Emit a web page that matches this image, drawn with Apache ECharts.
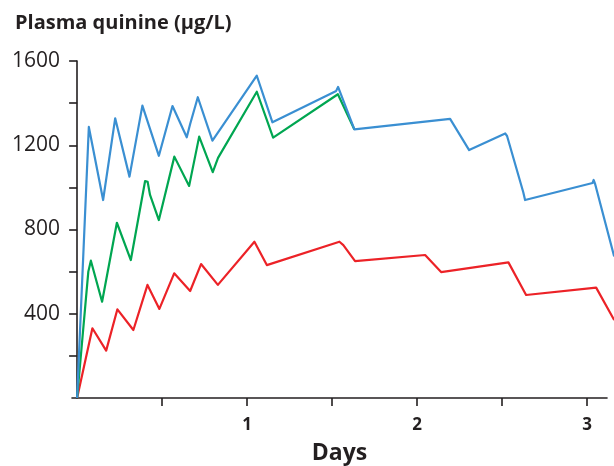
<!DOCTYPE html>
<html>
<head>
<meta charset="utf-8">
<script src="https://cdn.jsdelivr.net/npm/echarts@6/dist/echarts.min.js"></script>
<style>
html,body{margin:0;padding:0;background:#fff;overflow:hidden;}
#chart{width:614px;height:466px;}
</style>
</head>
<body>
<div id="chart"></div>
<script>
// ---- data (days, plasma quinine µg/L) ----
var blueDays   = [0, 0.069, 0.153, 0.224, 0.308, 0.384, 0.481, 0.561, 0.645, 0.665, 0.710, 0.796, 1.057, 1.149, 1.524, 1.535, 1.631, 2.194, 2.306, 2.518, 2.529, 2.624, 2.635, 3.032, 3.038, 3.047, 3.159];
var blueValues = [0, 1287, 940, 1328, 1051, 1388, 1150, 1386, 1238, 1301, 1428, 1222, 1530, 1309, 1458, 1477, 1275, 1325, 1177, 1256, 1244, 978, 940, 1021, 1035, 1016, 672];

var greenDays   = [0, 0.066, 0.081, 0.147, 0.234, 0.316, 0.400, 0.415, 0.429, 0.481, 0.572, 0.659, 0.718, 0.798, 0.829, 1.057, 1.153, 1.534, 1.631];
var greenValues = [0, 600, 652, 457, 832, 655, 1030, 1026, 964, 845, 1146, 1007, 1241, 1072, 1140, 1454, 1236, 1442, 1275];

var redDays   = [0, 0.090, 0.171, 0.237, 0.247, 0.331, 0.414, 0.484, 0.571, 0.665, 0.729, 0.828, 1.043, 1.116, 1.543, 1.566, 1.635, 2.047, 2.141, 2.537, 2.641, 3.053, 3.159];
var redValues = [0, 331, 225, 421, 423, 323, 537, 423, 592, 508, 636, 537, 742, 631, 742, 726, 650, 679, 598, 644, 489, 524, 370];

var xTickValues  = [0.5, 1, 1.5, 2, 2.5, 3];
var xLabelValues = [1, 2, 3];
var yTickValues  = [200, 400, 600, 800, 1000, 1200, 1400, 1600];
var yLabelValues = [400, 800, 1200, 1600];

function pairs(xs, ys) { return xs.map(function (x, i) { return [x, ys[i]]; }); }

var ink = '#231f20';
var chart = echarts.init(document.getElementById('chart'));
chart.setOption({
  animation: false,
  backgroundColor: '#ffffff',
  title: {
    text: 'Plasma quinine (µg/L)',
    left: 10, top: 8,
    textStyle: { fontFamily: 'Open Sans', fontWeight: 'bold', fontSize: 20, color: ink }
  },
  grid: [
    // drawing area for the curves (runs to the picture's right edge)
    { left: 72, right: 0, top: 61, bottom: 68, containLabel: false, outerBoundsMode: 'none' },
    // visible axes (x axis line ends a little before the edge)
    { left: 72, right: 7, top: 61, bottom: 68, containLabel: false, outerBoundsMode: 'none' }
  ],
  xAxis: [
    { gridIndex: 0, type: 'value', min: -0.03, max: 3.158, show: false },
    {
      gridIndex: 1, type: 'value', min: -0.03, max: 3.117,
      name: 'Days', nameLocation: 'middle', nameGap: 44,
      nameTextStyle: { fontFamily: 'Open Sans', fontWeight: 'bold', fontSize: 23, color: ink },
      axisLine: { show: true, onZero: false, lineStyle: { color: ink, width: 1.6 } },
      axisTick: { show: true, inside: false, length: 8, customValues: xTickValues, lineStyle: { color: ink, width: 1.6 } },
      axisLabel: { customValues: xLabelValues, margin: 19, fontFamily: 'Open Sans', fontWeight: 'bold', fontSize: 17, color: ink },
      splitLine: { show: false }
    }
  ],
  yAxis: [
    { gridIndex: 0, type: 'value', min: 0, max: 1600, show: false },
    {
      gridIndex: 1, type: 'value', min: 0, max: 1600,
      axisLine: { show: true, lineStyle: { color: ink, width: 1.6 } },
      axisTick: { show: true, inside: false, length: 8, customValues: yTickValues, lineStyle: { color: ink, width: 1.6 } },
      axisLabel: { customValues: yLabelValues, margin: 12, fontFamily: 'Open Sans', fontSize: 21, color: ink,
        formatter: function (v) { return String(v); } },
      splitLine: { show: false }
    }
  ],
  series: [
    { type: 'line', xAxisIndex: 0, yAxisIndex: 0, data: pairs(redDays, redValues), symbol: 'none', clip: false,
      lineStyle: { color: '#ec2227', width: 2.2, join: 'round' } },
    { type: 'line', xAxisIndex: 0, yAxisIndex: 0, data: pairs(greenDays, greenValues), symbol: 'none', clip: false,
      lineStyle: { color: '#00a651', width: 2.2, join: 'round' } },
    { type: 'line', xAxisIndex: 0, yAxisIndex: 0, data: pairs(blueDays, blueValues), symbol: 'none', clip: false,
      lineStyle: { color: '#3a8fd2', width: 2.2, join: 'round' } }
  ]
});
</script>
</body>
</html>
